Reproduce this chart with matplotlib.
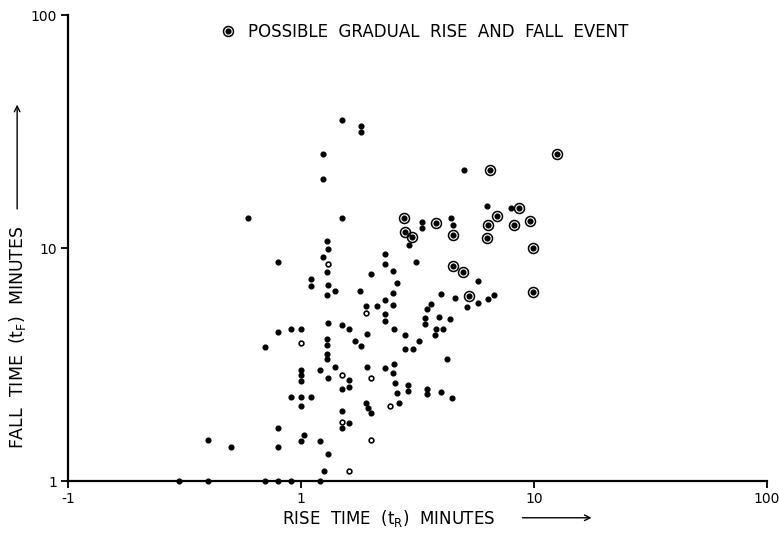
import matplotlib.pyplot as plt
from matplotlib.lines import Line2D

# rise time (min), fall time (min) - ordinary events
rise = [1.50, 1.81, 1.81, 1.24, 1.24, 5.01, 0.59, 1.50, 6.29, 7.96,
        3.31, 3.31, 4.40, 4.51, 2.91, 1.29, 1.31, 1.24, 1.29, 0.80,
        2.29, 2.29, 2.48, 3.12, 5.75, 1.10, 1.10, 1.31, 1.40, 1.29,
        1.79, 2.00, 2.59, 2.49, 2.29, 2.48, 1.90, 2.11, 2.29, 2.29,
        4.58, 6.35, 6.73, 5.75, 5.18, 3.99, 3.61, 3.46, 3.41, 3.41,
        3.91, 4.36, 1.31, 1.50, 1.61, 1.00, 0.91, 0.80, 1.92, 2.51,
        3.80, 4.07, 2.79, 3.76, 1.71, 1.81, 1.29, 1.29, 1.29, 1.29,
        0.70, 3.21, 2.79, 3.03, 4.24, 1.21, 1.40, 1.00, 1.00, 1.00,
        1.31, 1.92, 1.61, 1.61, 1.50, 2.29, 2.51, 2.48, 2.53, 2.59,
        2.88, 2.88, 2.63, 3.47, 3.47, 3.99, 4.45, 0.91, 1.00, 1.10,
        1.00, 1.90, 1.94, 2.00, 1.50, 1.61, 1.50, 0.80, 1.03, 1.00,
        1.21, 0.40, 0.50, 0.80, 1.31, 1.26,
        0.30, 0.40, 0.70, 0.80, 0.91, 1.21]
fall = [35.4, 33.3, 31.4, 25.2, 19.8, 21.6, 13.4, 13.5, 15.1, 14.8,
        12.9, 12.2, 13.5, 12.6, 10.3, 10.7, 9.93, 9.19, 7.89, 8.73,
        9.38, 8.50, 7.97, 8.73, 7.25, 7.38, 6.87, 6.92, 6.53, 6.27,
        6.55, 7.76, 7.10, 6.40, 5.98, 5.72, 5.64, 5.66, 5.19, 4.88,
        6.08, 6.02, 6.29, 5.83, 5.57, 6.37, 5.76, 5.49, 5.00, 4.70,
        5.06, 4.98, 4.78, 4.65, 4.48, 4.48, 4.47, 4.38, 4.27, 4.50,
        4.50, 4.48, 4.23, 4.22, 3.97, 3.78, 4.05, 3.85, 3.52, 3.35,
        3.76, 3.99, 3.67, 3.67, 3.34, 3.00, 3.08, 3.01, 2.85, 2.68,
        2.77, 3.08, 2.70, 2.54, 2.48, 3.07, 3.18, 2.90, 2.64, 2.39,
        2.59, 2.44, 2.17, 2.49, 2.36, 2.40, 2.28, 2.29, 2.29, 2.29,
        2.09, 2.17, 2.06, 1.96, 1.99, 1.78, 1.69, 1.69, 1.57, 1.49,
        1.49, 1.50, 1.40, 1.40, 1.30, 1.10,
        1.0, 1.0, 1.0, 1.0, 1.0, 1.0]

# dots that came out hollow in the print
rise_open = [1.31, 1.90, 1.00, 2.00, 1.50, 2.41, 1.50, 2.00, 1.61]
fall_open = [8.50, 5.27, 3.90, 2.76, 2.86, 2.09, 1.80, 1.50, 1.10]

# possible gradual rise and fall events
rise_grad = [12.5, 6.50, 8.66, 2.77, 3.80, 6.97, 6.35, 8.20, 9.61,
             2.79, 2.99, 4.49, 6.26, 9.95, 4.51, 4.98, 5.26, 9.90]
fall_grad = [25.4, 21.6, 14.8, 13.5, 12.8, 13.7, 12.5, 12.6, 13.0,
             11.7, 11.1, 11.4, 11.0, 10.0, 8.33, 7.92, 6.25, 6.50]

xticks = [0.1, 1, 10, 100]
xticklabels = ['-1', '1', '10', '100']
yticks = [1, 10, 100]
yticklabels = ['1', '10', '100']

fig = plt.figure(figsize=(7.79, 5.36), dpi=100)
ax = fig.add_axes([0.0873, 0.1026, 0.8973, 0.8694])

ax.plot(rise, fall, 'o', color='black', ms=3.4, clip_on=False, zorder=3)
ax.plot(rise_open, fall_open, 'o', mfc='white', mec='black', ms=3.4,
        mew=1.2, clip_on=False, zorder=3)
ax.plot(rise_grad, fall_grad, 'o', color='black', ms=3.4, zorder=3)
ax.plot(rise_grad, fall_grad, 'o', mfc='none', mec='black', ms=7.2,
        mew=1.1, zorder=3)

ax.set_xscale('log')
ax.set_yscale('log')
ax.set_xlim(0.1, 100)
ax.set_ylim(1, 100)
ax.set_xticks(xticks)
ax.set_xticklabels(xticklabels)
ax.set_yticks(yticks)
ax.set_yticklabels(yticklabels)
ax.minorticks_off()
ax.tick_params(direction='out', length=5, width=1.3, labelsize=10, pad=3)

for side in ['top', 'right']:
    ax.spines[side].set_visible(False)
for side in ['left', 'bottom']:
    ax.spines[side].set_linewidth(1.6)

dot = Line2D([], [], ls='none', marker='o', color='black', ms=3.4)
ring = Line2D([], [], ls='none', marker='o', mfc='none', mec='black',
              ms=7.2, mew=1.1)
ax.legend([(ring, dot)], ['POSSIBLE  GRADUAL  RISE  AND  FALL  EVENT'],
          loc='center left', bbox_to_anchor=(0.195, 0.963), frameon=False,
          handlelength=1.0, handletextpad=0.7, fontsize=12)

fig.text(0.499, 0.032, 'RISE  TIME  (t$_\\mathregular{R}$)  MINUTES',
         ha='center', va='center', fontsize=12)
fig.text(0.022, 0.37, 'FALL  TIME  (t$_\\mathregular{F}$)  MINUTES',
         ha='center', va='center', rotation=90, fontsize=12.5)
ax.annotate('', xy=(0.763, 0.034), xytext=(0.667, 0.034),
            xycoords='figure fraction',
            arrowprops=dict(arrowstyle='->', lw=1.0, color='black'))
ax.annotate('', xy=(0.022, 0.81), xytext=(0.022, 0.605),
            xycoords='figure fraction',
            arrowprops=dict(arrowstyle='->', lw=1.0, color='black'))

plt.savefig('out.png', dpi=100)
